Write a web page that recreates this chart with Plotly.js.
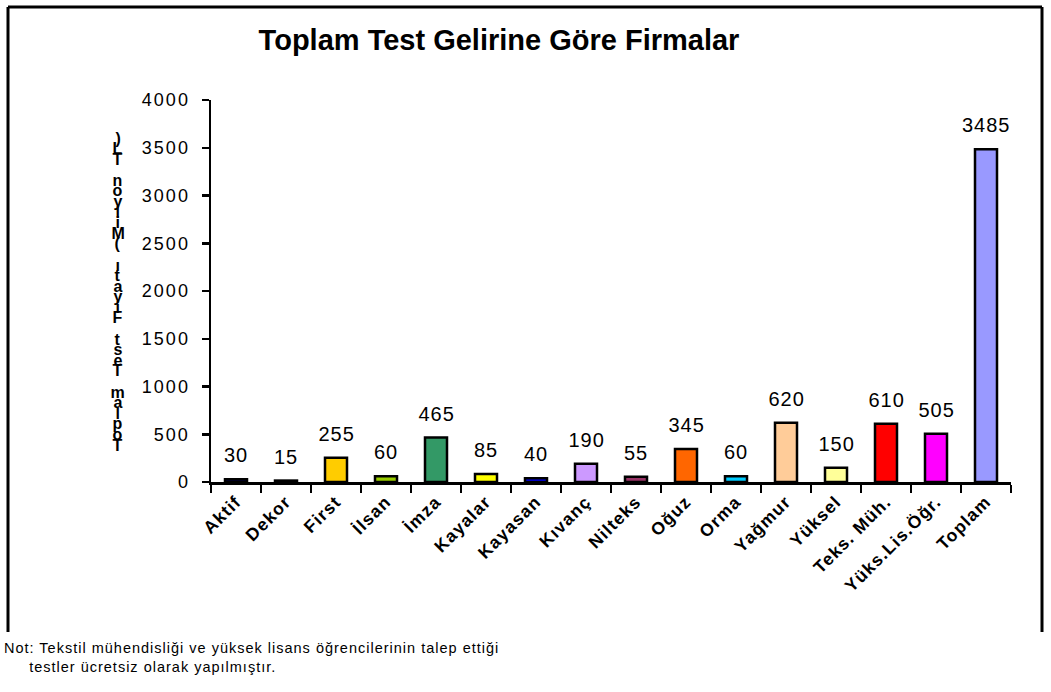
<!DOCTYPE html>
<html>
<head>
<meta charset="utf-8">
<script src="https://cdn.plot.ly/plotly-3.0.1.min.js"></script>
<style>
html,body{margin:0;padding:0;background:#fff;}
#chart{width:1051px;height:692px;}
#chart .ytick text{letter-spacing:2px;}
#chart .xtick text{letter-spacing:1.2px;}
#chart .annotation-text{letter-spacing:1px;}
</style>
</head>
<body>
<div id="chart"></div>
<script>
const categories = ["Aktif","Dekor","First","İlsan","İmza","Kayalar","Kayasan","Kıvanç","Nilteks","Oğuz","Orma","Yağmur","Yüksel","Teks. Müh.","Yüks.Lis.Öğr.","Toplam"];
const values = [30,15,255,60,465,85,40,190,55,345,60,620,150,610,505,3485];
const barColors = ["#000080","#660066","#FFCC00","#99CC00","#339966","#FFFF00","#0000FF","#CC99FF","#993366","#FF6600","#00CCFF","#FFCC99","#FFFF99","#FF0000","#FF00FF","#9999FF"];
const yTitle = "Toplam Test Fiyatı (Milyon TL)";
const chartTitle = "Toplam Test Gelirine Göre Firmalar";
const noteText = "Not: Tekstil mühendisliği ve yüksek lisans öğrencilerinin talep ettiği<br>     testler ücretsiz olarak yapılmıştır.";

const FONT = "Liberation Sans, Arial, sans-serif";

const trace = {
  type: "bar",
  x: categories,
  y: values,
  marker: {color: barColors, line: {color: "#000", width: 2.5}},
  hoverinfo: "none"
};

const annotations = [];
// value labels above the bars
categories.forEach((c, i) => {
  annotations.push({
    xref: "x", yref: "y", x: c, y: values[i],
    text: String(values[i]), showarrow: false,
    xanchor: "center", yanchor: "bottom", yshift: 11,
    font: {family: FONT, size: 20, color: "#000"}
  });
});
// vertical stacked y-axis title (letters upright, read bottom to top)
const chars = Array.from(yTitle);
const yBottom = 445, yTop = 138;
const step = (yBottom - yTop) / (chars.length - 1);
chars.forEach((c, i) => {
  if (c === " ") return;
  annotations.push({
    xref: "paper", yref: "paper",
    x: (118 - 211) / 800,
    y: (482 - (yBottom - i * step)) / 382,
    text: c, showarrow: false,
    xanchor: "center", yanchor: "middle",
    font: {family: FONT, size: 16, color: "#000", weight: "bold"}
  });
});
annotations.push({
  xref: "paper", yref: "paper",
  x: (2 - 211) / 800, y: (482 - 638) / 382,
  xanchor: "left", yanchor: "top", align: "left",
  text: noteText, showarrow: false,
  font: {family: FONT, size: 14.5, color: "#000"}
});

const layout = {
  width: 1051, height: 692,
  margin: {l: 211, r: 40, t: 100, b: 210},
  paper_bgcolor: "#fff", plot_bgcolor: "#fff",
  showlegend: false,
  bargap: 0.56,
  title: {
    text: "<b>" + chartTitle + "</b>",
    xref: "container", yref: "container",
    x: 499 / 1051, xanchor: "center",
    y: 1 - 40 / 692, yanchor: "middle",
    font: {family: FONT, size: 29, color: "#000"}
  },
  xaxis: {
    type: "category",
    showline: true, linecolor: "#000", linewidth: 2.5,
    ticks: "outside", tickson: "boundaries", ticklen: 8, tickwidth: 2.5, tickcolor: "#000",
    tickangle: -45,
    tickfont: {family: FONT, size: 17.5, color: "#000", weight: "bold"},
    showgrid: false, zeroline: false, fixedrange: true
  },
  yaxis: {
    range: [0, 4000], dtick: 500,
    showline: true, linecolor: "#000", linewidth: 2.5,
    ticks: "outside", ticklen: 7, tickwidth: 2.5, tickcolor: "#000",
    ticklabelstandoff: 8,
    tickfont: {family: FONT, size: 18, color: "#000"},
    showgrid: false, zeroline: false, fixedrange: true
  },
  annotations: annotations,
  shapes: [
    {type: "line", xref: "paper", yref: "paper",
     x0: (8 - 211) / 800, x1: (1042 - 211) / 800, y0: (482 - 7) / 382, y1: (482 - 7) / 382,
     line: {color: "#000", width: 3}},
    {type: "line", xref: "paper", yref: "paper",
     x0: (8 - 211) / 800, x1: (8 - 211) / 800, y0: (482 - 7) / 382, y1: (482 - 632) / 382,
     line: {color: "#000", width: 3}},
    {type: "line", xref: "paper", yref: "paper",
     x0: (1042 - 211) / 800, x1: (1042 - 211) / 800, y0: (482 - 7) / 382, y1: (482 - 632) / 382,
     line: {color: "#000", width: 3}}
  ]
};

Plotly.newPlot("chart", [trace], layout, {displayModeBar: false, staticPlot: true});
</script>
</body>
</html>
